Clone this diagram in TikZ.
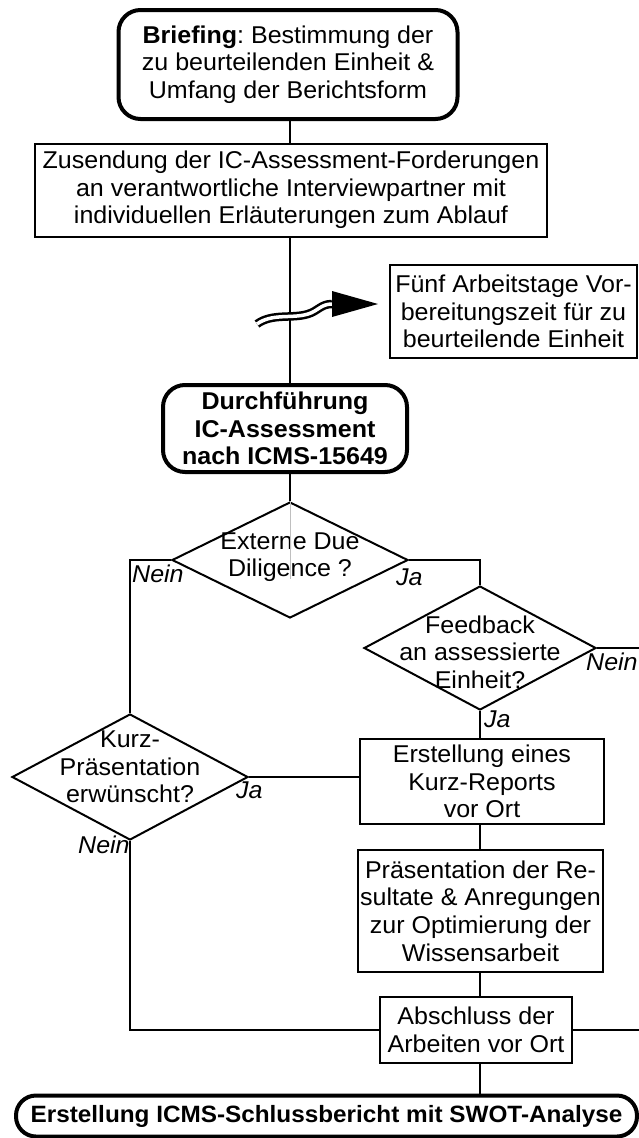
\documentclass[tikz,border=0pt]{standalone}
\usepackage{fontspec}
\setmainfont{Liberation Sans}[FakeStretch=1.03]
\usetikzlibrary{shapes.geometric,calc}
\newcommand\fsa{\fontsize{24.3}{27.6}\selectfont}
\newcommand\fsc{\fontsize{23.6}{27.6}\selectfont}
\frenchspacing
\begin{document}
\frenchspacing
\begin{tikzpicture}[x=1pt,y=-1pt,
  box/.style={draw, line width=2pt, inner sep=0pt, align=center, font=\fsa},
  rbox/.style={box, line width=4pt, rounded corners=22pt},
  dia/.style={draw, diamond, line width=2pt, inner sep=0pt},
  txt/.style={align=center, font=\fsa, inner sep=0pt},
  lab/.style={font=\fsa\itshape, inner sep=0pt, anchor=base west},
  conn/.style={line width=2pt}]
\fill[white] (0,0) rectangle (639,1138);
\useasboundingbox (0,0) rectangle (639,1138);
\coordinate (edgeR) at (639,0);

% nodes
\node[rbox, minimum width=339pt, minimum height=109pt] (brief) at (288,64.5)
  {\textbf{Briefing}: Bestimmung der\\zu beurteilenden Einheit \&\\Umfang der Berichtsform};
\node[box, minimum width=512pt, minimum height=93pt] (send) at (291,190)
  {Zusendung der IC-Assessment-Forderungen\\an verantwortliche Interviewpartner mit\\individuellen Erläuterungen zum Ablauf};
\node[box, minimum width=247pt, minimum height=93pt] (fuenf) at (513.5,311.5)
  {Fünf Arbeitstage Vor-\\bereitungszeit für zu\\beurteilende Einheit};
\node[rbox, minimum width=244pt, minimum height=87pt, font=\fsa\bfseries] (durch) at (285,428.5)
  {Durchführung\\IC-Assessment\\nach ICMS-15649};
\node[dia, minimum width=236pt, minimum height=116pt] (d1) at (290,560) {};
\node[txt] (d1t) at (290,557) {Externe Due\\Diligence ?};
\node[dia, minimum width=232pt, minimum height=124pt] (fb) at (480,648) {};
\node[txt] (fbt) at (480,652) {Feedback\\an assessierte\\Einheit?};
\node[dia, minimum width=236pt, minimum height=126pt] (kp) at (130,777) {};
\node[txt] (kpt) at (130,767) {Kurz-\\Präsentation\\erwünscht?};
\node[box, minimum width=244pt, minimum height=85pt] (rep) at (482,781.5)
  {Erstellung eines\\Kurz-Reports\\vor Ort};
\node[box, minimum width=245pt, minimum height=122pt] (praes) at (480.5,911)
  {Präsentation der Re-\\sultate \& Anregungen\\zur Optimierung der\\Wissensarbeit};
\node[box, minimum width=192pt, minimum height=66pt] (absch) at (476,1030)
  {Abschluss der\\Arbeiten vor Ort};
\node[rbox, minimum width=621pt, minimum height=41pt, rounded corners=20pt, font=\fsc\bfseries] (schl) at (326.5,1116)
  {Erstellung ICMS-Schlussbericht mit SWOT-Analyse};

% connectors
\draw[conn] (brief.south -| d1.north) -- (send.north -| d1.north);
\draw[conn] (send.south -| d1.north) -- (durch.north -| d1.north);
\draw[conn] (durch.south -| d1.north) -- (d1.north);
\draw[gray!50, line width=0.6pt] (d1.north) -- ++(0,78);
\draw[conn] (d1.west) -| (kp.north);
\draw[conn] (d1.east) -| (fb.north);
\draw[conn] (fb.east) -- (fb.east -| edgeR);
\draw[conn] (fb.south) -- (rep.north -| fb.south);
\draw[conn] (kp.east) -- (kp.east -| rep.west);
\draw[conn] (rep.south -| fb.south) -- (praes.north -| fb.south);
\draw[conn] (praes.south -| fb.south) -- (absch.north -| fb.south);
\draw[conn] (kp.south) |- (absch.west);
\draw[conn] (absch.east) -- (absch.east -| edgeR);
\draw[conn] (absch.south -| fb.south) -- (schl.north -| fb.south);

% break symbol with arrow
\draw[line width=2.5pt, double=white, double distance=3.5pt]
  (257,324) .. controls (272,313) and (292,319) .. (308,314)
  .. controls (318,311) and (321,304) .. (332,304);
\fill (332,291) -- (378,304) -- (332,317) -- cycle;

% labels
\node[lab] (l1) at (132,582) {Nein};
\node[lab] (l2) at (396,585) {Ja};
\node[lab] (l3) at (586,670) {Nein};
\node[lab] (l4) at (484,727) {Ja};
\node[lab] (l5) at (236,798) {Ja};
\node[lab] (l6) at (78,853) {Nein};
\end{tikzpicture}
\end{document}
